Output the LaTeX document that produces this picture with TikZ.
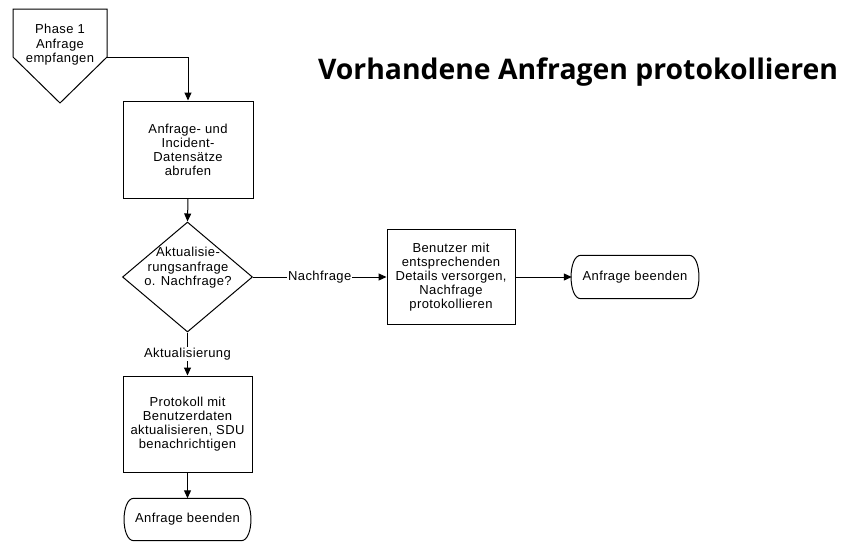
\documentclass[tikz,border=0pt]{standalone}
\usepackage{fontspec}
\setmainfont{Liberation Sans}[LetterSpace=3]
\newfontfamily\titlefont{Open Sans}
\usetikzlibrary{arrows.meta,shapes.geometric}
\tikzset{
  box/.style={draw,line width=1pt,inner sep=0pt,align=center,font=\fontsize{13}{14}\selectfont},
  diam/.style={draw,line width=1pt,diamond,inner sep=0pt,minimum width=130pt,minimum height=110pt},
  term/.style={inner sep=0pt,font=\fontsize{13}{14}\selectfont},
  conn/.style={line width=1pt,-{Triangle[length=8pt,width=7pt]}},
  lbl/.style={fill=white,inner sep=1pt,font=\fontsize{13}{14}\selectfont},
  txt/.style={align=center,inner sep=0pt,font=\fontsize{13}{14.5}\selectfont}
}
\begin{document}
\begin{tikzpicture}[x=1pt,y=-1pt]
\useasboundingbox (0,0) rectangle (861,541);
% title
\node[inner sep=0pt] (title) at (578,72) {\resizebox{520pt}{!}{\titlefont\bfseries\fontsize{25}{30}\selectfont Vorhandene Anfragen protokollieren}};
% off-page connector
\coordinate (p1) at (13,9);
\coordinate (p2) at (107,9);
\coordinate (p3) at (107,57);
\coordinate (p4) at (60,103);
\coordinate (p5) at (13,57);
\draw[line width=1pt,line join=miter] (p1) -- (p2) -- (p3) -- (p4) -- (p5) -- cycle;
\node[txt] (start) at (60,45) {Phase 1\\Anfrage\\empfangen};
% boxes
\node[box,minimum width=130pt,minimum height=97pt] (b1) at (188,149.5) {Anfrage- und\\Incident-\\Datensätze\\abrufen};
\node[diam] (d) at (187.5,277) {};
\node[txt] (dtext) at (188,268) {Aktualisie-\\rungsanfrage\\o. Nachfrage?};
\node[box,minimum width=128pt,minimum height=95pt] (b2) at (451,277) {Benutzer mit\\entsprechenden\\Details versorgen,\\Nachfrage\\protokollieren};
\node[term,minimum width=126pt,minimum height=43pt] (t1) at (635,277) {Anfrage beenden};
\node[box,minimum width=129pt,minimum height=96pt] (b3) at (187.5,424) {Protokoll mit\\Benutzerdaten\\aktualisieren, SDU\\benachrichtigen};
\node[term,minimum width=125pt,minimum height=42pt] (t2) at (187.5,519.5) {\raisebox{-3pt}{Anfrage beenden}};
% terminal outlines
\foreach \t in {t1,t2}{
  \draw[line width=1pt] ([xshift=9pt]\t.north west) -- ([xshift=-9pt]\t.north east)
    .. controls ([xshift=4pt]\t.north east) and ([xshift=4pt]\t.south east) .. ([xshift=-9pt]\t.south east)
    -- ([xshift=9pt]\t.south west)
    .. controls ([xshift=-4pt]\t.south west) and ([xshift=-4pt]\t.north west) .. cycle;
}
% connectors
\draw[conn] (p3) -- (b1.north |- p3) -- (b1.north);
\draw[conn] (b1.south) -- (d.north);
\draw[conn] (d.east) -- node[lbl,pos=0.5] {Nachfrage} (b2.west);
\draw[conn] (b2.east) -- (t1.west);
\draw[conn] (d.south) -- node[lbl,pos=0.5] {Aktualisierung} (b3.north);
\draw[conn] (b3.south) -- (t2.north);
\end{tikzpicture}
\end{document}
